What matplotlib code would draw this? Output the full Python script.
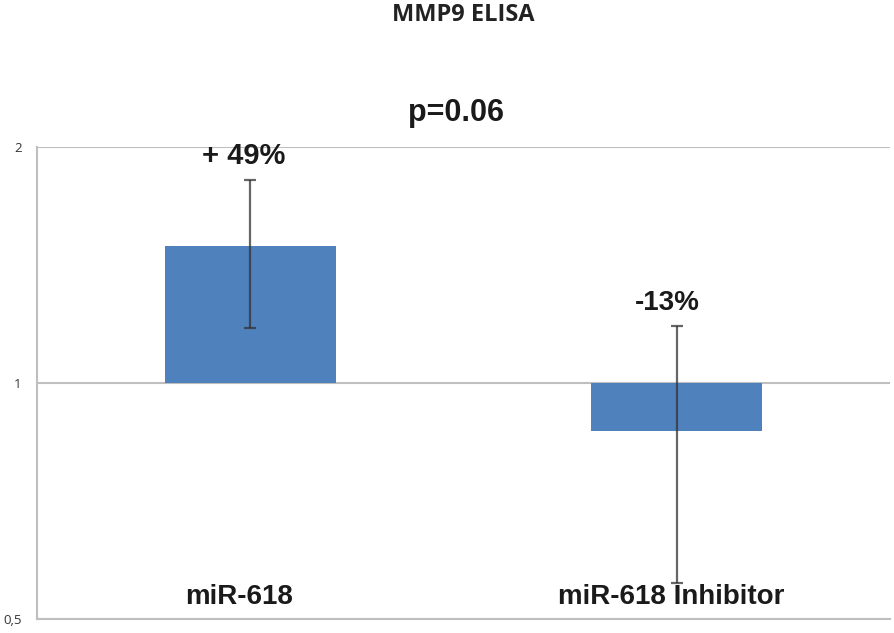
import matplotlib
matplotlib.use("Agg")
import matplotlib.pyplot as plt
from matplotlib.ticker import FixedLocator, NullLocator

categories = ["miR-618", "miR-618 Inhibitor"]
values = [1.495, 0.869]
errors = [0.32, 0.313]
pct_labels = ["+ 49%", "-13%"]
yticks = [0.5, 1, 2]
ytick_labels = ["0,5", "1", "2"]
title = "MMP9 ELISA"
ptext = "p=0.06"

fig = plt.figure(figsize=(8.94, 6.33), dpi=100)
ax = fig.add_axes([37/894, 1-619/633, (890-37)/894, (619-147)/633])
ax.set_yscale("log", base=2)
ax.set_ylim(0.5, 2)
ax.set_xlim(-0.5, 1.5)

x = list(range(len(categories)))
heights = [v - 1 for v in values]
ax.bar(x, heights, bottom=1, width=0.4, color="#4F81BD", zorder=2)
ax.errorbar(x, values, yerr=errors, fmt="none", ecolor="#333333", alpha=0.75,
            elinewidth=1.6, capsize=4, capthick=1.6, zorder=3)

ax.yaxis.set_major_locator(FixedLocator(yticks))
ax.yaxis.set_minor_locator(NullLocator())
ax.set_yticklabels(ytick_labels, fontsize=9.5, color="#333333", family="Open Sans")
ax.tick_params(axis="y", length=0, pad=11)
ax.set_xticks([])
ax.grid(axis="y", color="#bfbfbf", linewidth=1.5, zorder=0)

for s in ["top", "right"]:
    ax.spines[s].set_visible(False)
for s in ["left", "bottom"]:
    ax.spines[s].set_color("#bfbfbf")
    ax.spines[s].set_linewidth(1.5)

# percentage labels above error bars
for xi, v, e, lab in zip(x, values, errors, pct_labels):
    ax.annotate(lab, (xi, v + e), xytext=(-5 if xi == 0 else -7, 7), textcoords="offset points",
                ha="center", va="bottom", fontsize=21 if xi == 0 else 20, fontweight="bold",
                family="Liberation Sans", color="#1a1a1a")

# category labels near bottom
for xi, c in zip(x, categories):
    ax.annotate(c, (xi, 0.5), xytext=(-8 if xi == 0 else -4, 16), textcoords="offset points",
                ha="center", va="center", fontsize=20, fontweight="bold",
                family="Liberation Sans", color="#1a1a1a")

fig.text(463/894, 1-15/633, title, ha="center", va="center", fontsize=17,
         fontweight="bold", family="Open Sans", color="#222222")
fig.text(456/894, 1-113/633, ptext, ha="center", va="center", fontsize=22,
         fontweight="bold", family="Liberation Sans", color="#1a1a1a")

fig.savefig("out.png", dpi=100)
